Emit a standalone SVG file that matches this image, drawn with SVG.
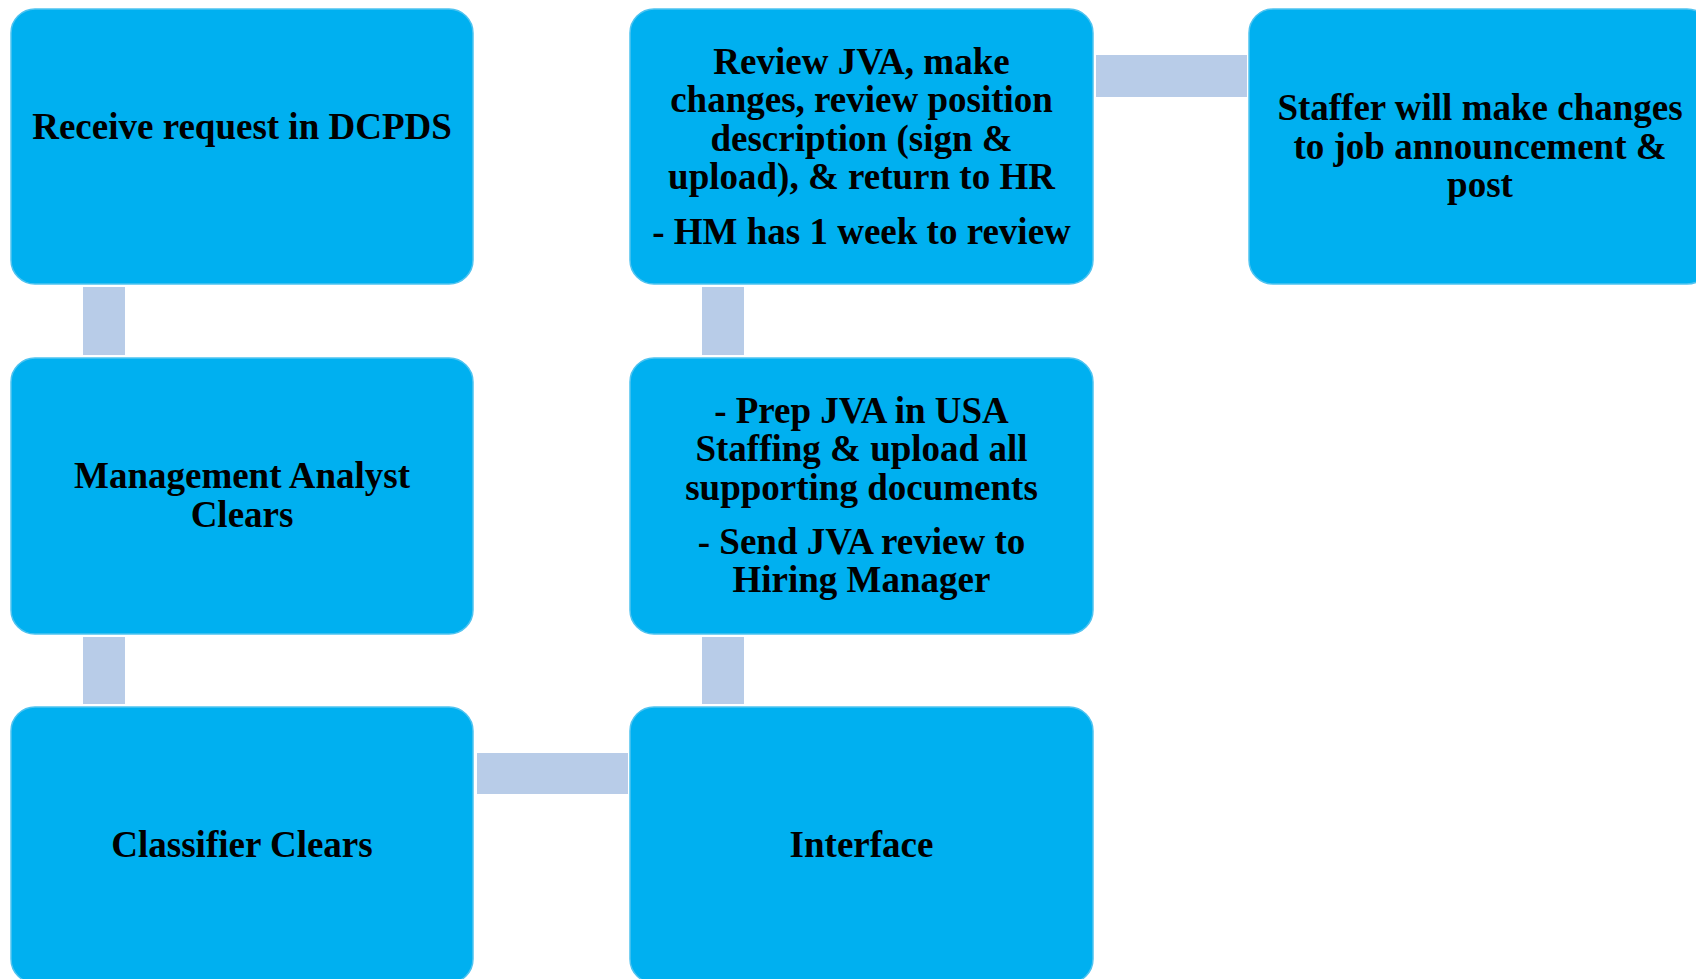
<svg xmlns="http://www.w3.org/2000/svg" width="1696" height="979" viewBox="0 0 1696 979">
<style>
.box{fill:#00B0F0;stroke:#4FC3F0;stroke-width:1.5}
.conn{fill:#B8CCE8}
.t{font-family:"Liberation Serif","Times New Roman",serif;font-weight:bold;font-size:37px;fill:#000;text-anchor:middle}
</style>
<rect width="1696" height="979" fill="#FFFFFF"/>
<g id="connectors">
<rect class="conn" x="83" y="287" width="42" height="68"/>
<rect class="conn" x="83" y="637" width="42" height="67"/>
<rect class="conn" x="477" y="753" width="151" height="41"/>
<rect class="conn" x="702" y="637" width="42" height="67"/>
<rect class="conn" x="702" y="287" width="42" height="68"/>
<rect class="conn" x="1096" y="55" width="151" height="42"/>
</g>
<g id="node-receive">
<rect class="box" x="11" y="9" width="462" height="275" rx="24"/>
<text class="t" x="242" y="139">Receive request in DCPDS</text>
</g>
<g id="node-management">
<rect class="box" x="11" y="358" width="462" height="276" rx="24"/>
<text class="t" x="242" y="488">Management Analyst</text>
<text class="t" x="242" y="527">Clears</text>
</g>
<g id="node-classifier">
<rect class="box" x="11" y="707" width="462" height="276" rx="24"/>
<text class="t" x="242" y="857">Classifier Clears</text>
</g>
<g id="node-interface">
<rect class="box" x="630" y="707" width="463" height="276" rx="24"/>
<text class="t" x="861.5" y="857">Interface</text>
</g>
<g id="node-prep">
<rect class="box" x="630" y="358" width="463" height="276" rx="24"/>
<text class="t" x="861.5" y="423">- Prep JVA in USA</text>
<text class="t" x="861.5" y="461">Staffing &amp; upload all</text>
<text class="t" x="861.5" y="500">supporting documents</text>
<text class="t" x="861.5" y="554">- Send JVA review to</text>
<text class="t" x="861.5" y="592">Hiring Manager</text>
</g>
<g id="node-review">
<rect class="box" x="630" y="9" width="463" height="275" rx="24"/>
<text class="t" x="861.5" y="74">Review JVA, make</text>
<text class="t" x="861.5" y="112">changes, review position</text>
<text class="t" x="861.5" y="151">description (sign &amp;</text>
<text class="t" x="861.5" y="189">upload), &amp; return to HR</text>
<text class="t" x="861.5" y="244">- HM has 1 week to review</text>
</g>
<g id="node-staffer">
<rect class="box" x="1249" y="9" width="462" height="275" rx="24"/>
<text class="t" x="1480" y="120">Staffer will make changes</text>
<text class="t" x="1480" y="159">to job announcement &amp;</text>
<text class="t" x="1480" y="197">post</text>
</g>
</svg>
